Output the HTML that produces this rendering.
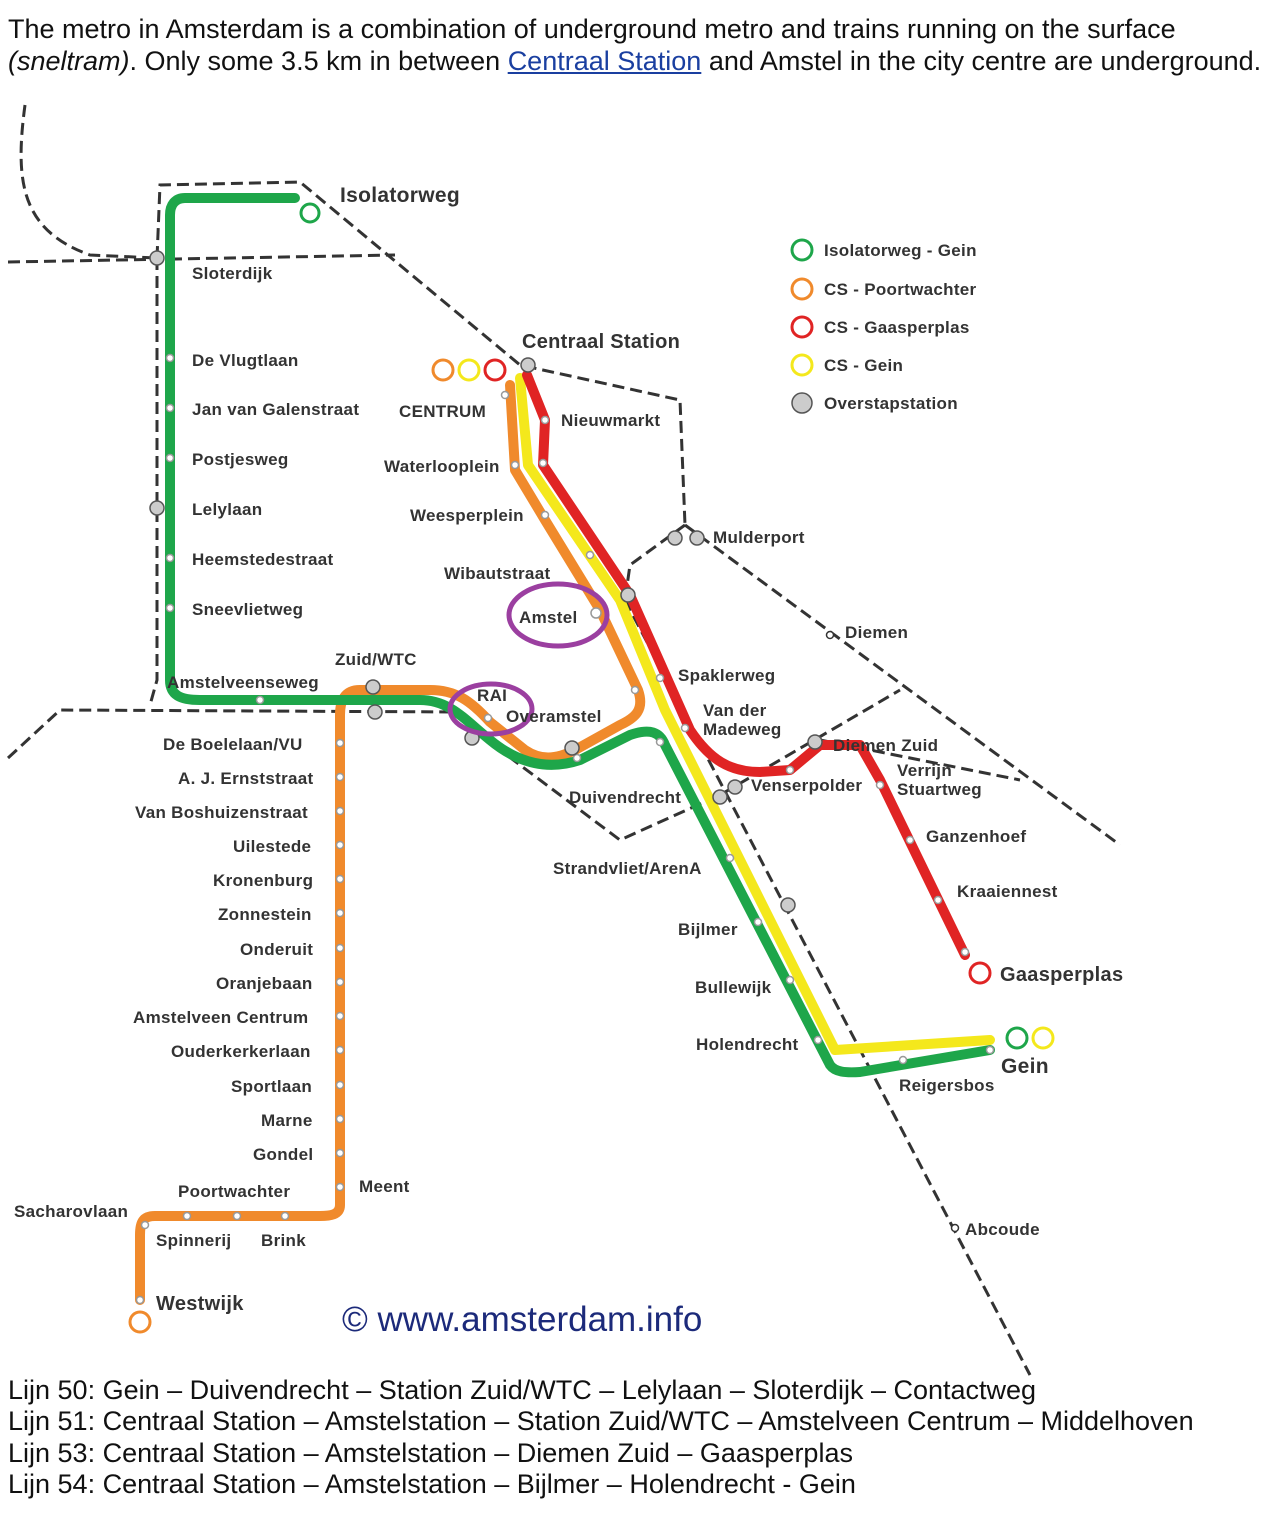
<!DOCTYPE html>
<html><head><meta charset="utf-8"><style>
body{margin:0;width:1269px;height:1515px;background:#fff;overflow:hidden;font-family:"Liberation Sans",sans-serif;}
.t{position:absolute;left:8px;font-size:27px;color:#111;white-space:nowrap;}
a{color:#1a3fa0;text-decoration:underline;}
svg{position:absolute;left:0;top:0;}
svg text{font-family:"Liberation Sans",sans-serif;font-weight:bold;font-size:17px;fill:#333;letter-spacing:0.3px;}
</style></head><body>
<div class="t" style="top:14px">The metro in Amsterdam is a combination of underground metro and trains running on the surface</div>
<div class="t" style="top:46px"><i>(sneltram)</i>. Only some 3.5 km in between <a>Centraal Station</a> and Amstel in the city centre are underground.</div>
<svg width="1269" height="1515" viewBox="0 0 1269 1515">
<g fill="none" stroke="#333" stroke-width="3" stroke-dasharray="12,6">
<path d="M25 105 C15 180 20 230 90 255 L157 258"/>
<path d="M8 262 L395 255"/>
<path d="M157 258 L160 185 L300 182 L520 365 L680 400 L685 525"/>
<path d="M157 258 L157 680 L150 705"/>
<path d="M8 758 L60 710 L460 712 L480 735"/>
<path d="M480 735 L620 840 L720 795 L900 690"/>
<path d="M685 525 L630 565 L625 600"/>
<path d="M685 525 L1120 845"/>
<path d="M625 600 L1030 1375"/>
<path d="M820 740 L1020 780"/>
</g>
<g fill="none" stroke-linecap="round" stroke-linejoin="round" stroke-width="10">
<path stroke="#f08a2c" d="M510 385 L515 470 L545 520 L600 610 L638 690 C645 710 635 718 620 725 L575 750 C555 760 540 760 525 750 L490 722 C470 700 455 690 430 690 L360 690 C345 690 340 700 340 715 L340 1205 C340 1215 330 1216 320 1216 L155 1216 C143 1216 140 1222 140 1235 L140 1300"/>
<path stroke="#f4e81c" d="M520 378 L528 465 L620 600 L665 710 L835 1050 L990 1040"/>
<path stroke="#e02424" d="M527 375 L545 420 L543 465 L630 595 L690 730 C710 760 730 772 760 772 L790 770 L820 745 L860 745 L880 780 L965 955"/>
<path stroke="#1ea64a" d="M295 198 L185 198 C175 198 170 205 170 215 L170 680 C170 695 180 700 200 700 L420 700 C450 700 465 720 490 740 C520 765 550 770 580 760 L630 735 C650 728 660 732 665 745 L830 1065 C835 1072 845 1073 860 1072 L990 1050"/>
</g>
<g fill="#fff" stroke="#999" stroke-width="1.5">
<circle cx="170" cy="358" r="3.5"/><circle cx="170" cy="408" r="3.5"/><circle cx="170" cy="458" r="3.5"/><circle cx="170" cy="558" r="3.5"/><circle cx="170" cy="608" r="3.5"/><circle cx="260" cy="700" r="3.5"/>
<circle cx="340" cy="743" r="3.5"/><circle cx="340" cy="777" r="3.5"/><circle cx="340" cy="811" r="3.5"/><circle cx="340" cy="845" r="3.5"/><circle cx="340" cy="879" r="3.5"/><circle cx="340" cy="913" r="3.5"/><circle cx="340" cy="948" r="3.5"/><circle cx="340" cy="982" r="3.5"/><circle cx="340" cy="1016" r="3.5"/><circle cx="340" cy="1050" r="3.5"/><circle cx="340" cy="1085" r="3.5"/><circle cx="340" cy="1119" r="3.5"/><circle cx="340" cy="1153" r="3.5"/><circle cx="340" cy="1187" r="3.5"/>
<circle cx="285" cy="1216" r="3.5"/><circle cx="237" cy="1216" r="3.5"/><circle cx="187" cy="1216" r="3.5"/><circle cx="145" cy="1225" r="3.5"/><circle cx="140" cy="1300" r="3.5"/>
<circle cx="545" cy="420" r="3.5"/><circle cx="543" cy="463" r="3.5"/><circle cx="545" cy="515" r="3.5"/><circle cx="590" cy="555" r="3.5"/><circle cx="596" cy="613" r="5"/><circle cx="635" cy="690" r="3.5"/><circle cx="660" cy="678" r="3.5"/><circle cx="685" cy="728" r="3.5"/><circle cx="660" cy="742" r="3.5"/><circle cx="730" cy="858" r="3.5"/><circle cx="758" cy="922" r="3.5"/><circle cx="790" cy="980" r="3.5"/><circle cx="818" cy="1040" r="3.5"/><circle cx="903" cy="1060" r="3.5"/><circle cx="990" cy="1050" r="3.5"/>
<circle cx="790" cy="770" r="3.5"/><circle cx="880" cy="785" r="3.5"/><circle cx="910" cy="840" r="3.5"/><circle cx="938" cy="900" r="3.5"/><circle cx="965" cy="952" r="3.5"/><circle cx="577" cy="758" r="3.5"/><circle cx="488" cy="718" r="3.5"/><circle cx="505" cy="395" r="3.5"/><circle cx="515" cy="465" r="3.5"/>
<circle cx="830" cy="635" r="3.5" stroke="#333"/><circle cx="955" cy="1228" r="3.5" stroke="#333"/>
</g>
<g fill="#ccc" stroke="#555" stroke-width="1.5">
<circle cx="157" cy="258" r="7"/><circle cx="157" cy="508" r="7"/><circle cx="373" cy="687" r="7"/><circle cx="375" cy="712" r="7"/><circle cx="472" cy="738" r="7"/><circle cx="572" cy="748" r="7"/><circle cx="528" cy="365" r="7"/><circle cx="675" cy="538" r="7"/><circle cx="697" cy="538" r="7"/><circle cx="628" cy="595" r="7"/><circle cx="815" cy="742" r="7"/><circle cx="720" cy="797" r="7"/><circle cx="735" cy="787" r="7"/><circle cx="788" cy="905" r="7"/>
<circle cx="802" cy="403" r="10"/>
</g>
<g stroke-width="3" fill="#fff">
<circle cx="310" cy="213" r="9" stroke="#1ea64a"/>
<circle cx="443" cy="370" r="10" stroke="#f08a2c"/><circle cx="469" cy="370" r="10" stroke="#f4e81c"/><circle cx="495" cy="370" r="10" stroke="#e02424"/>
<circle cx="802" cy="250" r="10" stroke="#1ea64a"/><circle cx="802" cy="289" r="10" stroke="#f08a2c"/><circle cx="802" cy="327" r="10" stroke="#e02424"/><circle cx="802" cy="365" r="10" stroke="#f4e81c"/>
<circle cx="980" cy="973" r="10" stroke="#e02424"/><circle cx="1017" cy="1038" r="10" stroke="#1ea64a"/><circle cx="1043" cy="1038" r="10" stroke="#f4e81c"/><circle cx="140" cy="1322" r="10" stroke="#f08a2c"/>
</g>
<g fill="none" stroke="#9b3fa0" stroke-width="5"><ellipse cx="558" cy="615" rx="49" ry="31"/><ellipse cx="491" cy="709" rx="41" ry="25"/></g>
<text x="340" y="202" style="font-size:21px">Isolatorweg</text>
<text x="192" y="279">Sloterdijk</text>
<text x="192" y="366">De Vlugtlaan</text>
<text x="192" y="415">Jan van Galenstraat</text>
<text x="192" y="465">Postjesweg</text>
<text x="192" y="515">Lelylaan</text>
<text x="192" y="565">Heemstedestraat</text>
<text x="192" y="615">Sneevlietweg</text>
<text x="167" y="688">Amstelveenseweg</text>
<text x="335" y="665">Zuid/WTC</text>
<text x="522" y="348" style="font-size:20px">Centraal Station</text>
<text x="399" y="417">CENTRUM</text>
<text x="561" y="426">Nieuwmarkt</text>
<text x="384" y="472">Waterlooplein</text>
<text x="410" y="521">Weesperplein</text>
<text x="444" y="579">Wibautstraat</text>
<text x="519" y="623">Amstel</text>
<text x="713" y="543">Mulderport</text>
<text x="845" y="638">Diemen</text>
<text x="678" y="681">Spaklerweg</text>
<text x="703" y="716">Van der</text>
<text x="703" y="735">Madeweg</text>
<text x="477" y="701">RAI</text>
<text x="506" y="722">Overamstel</text>
<text x="833" y="751">Diemen Zuid</text>
<text x="897" y="776">Verrijn</text>
<text x="897" y="795">Stuartweg</text>
<text x="751" y="791">Venserpolder</text>
<text x="569" y="803">Duivendrecht</text>
<text x="926" y="842">Ganzenhoef</text>
<text x="957" y="897">Kraaiennest</text>
<text x="1000" y="981" style="font-size:20px">Gaasperplas</text>
<text x="553" y="874">Strandvliet/ArenA</text>
<text x="678" y="935">Bijlmer</text>
<text x="695" y="993">Bullewijk</text>
<text x="696" y="1050">Holendrecht</text>
<text x="1001" y="1073" style="font-size:21px">Gein</text>
<text x="899" y="1091">Reigersbos</text>
<text x="965" y="1235">Abcoude</text>
<text x="163" y="750">De Boelelaan/VU</text>
<text x="178" y="784">A. J. Ernststraat</text>
<text x="135" y="818">Van Boshuizenstraat</text>
<text x="233" y="852">Uilestede</text>
<text x="213" y="886">Kronenburg</text>
<text x="218" y="920">Zonnestein</text>
<text x="240" y="955">Onderuit</text>
<text x="216" y="989">Oranjebaan</text>
<text x="133" y="1023">Amstelveen Centrum</text>
<text x="171" y="1057">Ouderkerkerlaan</text>
<text x="231" y="1092">Sportlaan</text>
<text x="261" y="1126">Marne</text>
<text x="253" y="1160">Gondel</text>
<text x="359" y="1192">Meent</text>
<text x="178" y="1197">Poortwachter</text>
<text x="14" y="1217">Sacharovlaan</text>
<text x="156" y="1246">Spinnerij</text>
<text x="261" y="1246">Brink</text>
<text x="156" y="1310" style="font-size:20px">Westwijk</text>
<text x="824" y="256">Isolatorweg - Gein</text>
<text x="824" y="295">CS - Poortwachter</text>
<text x="824" y="333">CS - Gaasperplas</text>
<text x="824" y="371">CS - Gein</text>
<text x="824" y="409">Overstapstation</text>
<text x="342" y="1331" style="font-size:35px;font-weight:normal;fill:#1c2a7a;letter-spacing:0">© www.amsterdam.info</text>
</svg>
<div class="t" style="top:1375px">Lijn 50: Gein – Duivendrecht – Station Zuid/WTC – Lelylaan – Sloterdijk – Contactweg</div>
<div class="t" style="top:1406px">Lijn 51: Centraal Station – Amstelstation – Station Zuid/WTC – Amstelveen Centrum – Middelhoven</div>
<div class="t" style="top:1438px">Lijn 53: Centraal Station – Amstelstation – Diemen Zuid – Gaasperplas</div>
<div class="t" style="top:1469px">Lijn 54: Centraal Station – Amstelstation – Bijlmer – Holendrecht - Gein</div>
</body></html>
